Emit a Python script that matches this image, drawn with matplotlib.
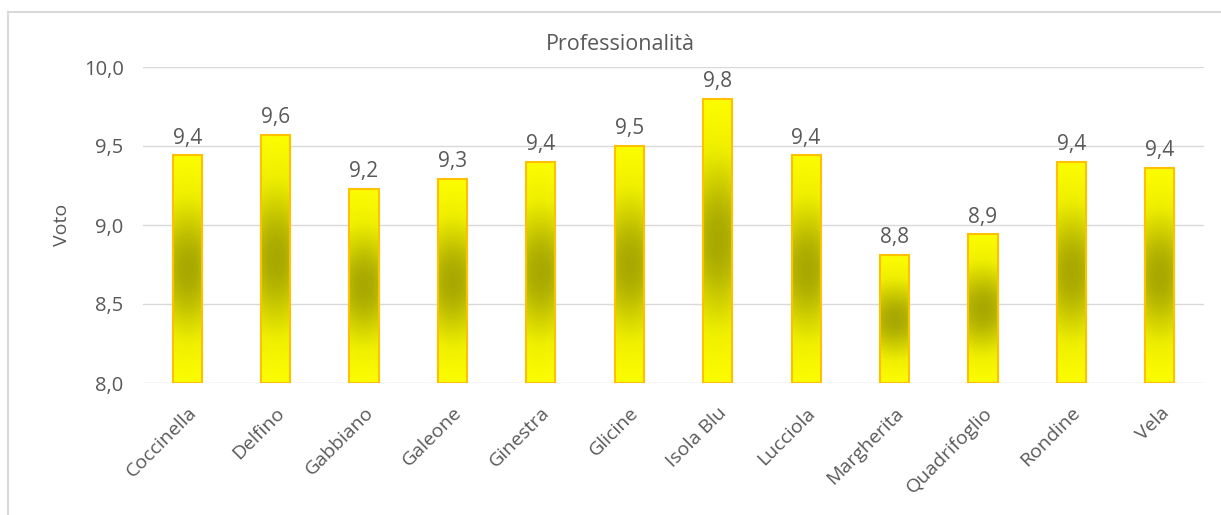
import matplotlib
matplotlib.use('Agg')
import matplotlib.pyplot as plt
import numpy as np
from matplotlib.colors import LinearSegmentedColormap
from matplotlib.lines import Line2D

# Dati
categorie = ['Coccinella', 'Delfino', 'Gabbiano', 'Galeone', 'Ginestra', 'Glicine',
             'Isola Blu', 'Lucciola', 'Margherita', 'Quadrifoglio', 'Rondine', 'Vela']
voti = [9.44, 9.57, 9.23, 9.29, 9.40, 9.50, 9.80, 9.44, 8.81, 8.94, 9.40, 9.36]
y_ticks = [8.0, 8.5, 9.0, 9.5, 10.0]

plt.rcParams['font.family'] = ['Open Sans', 'DejaVu Sans']
grigio = '#595959'

fig = plt.figure(figsize=(12.21, 5.15), dpi=100)
ax = fig.add_axes([143/1221, 1 - 383/515, (1204 - 143)/1221, (383 - 67)/515])

x = np.arange(len(categorie))
bars = ax.bar(x, [v - 8.0 for v in voti], bottom=8.0, width=0.33,
              color='none', edgecolor='#ffc000', linewidth=1.5, zorder=3)

# Sfumatura: giallo in alto e in basso, oliva al centro
cmap = LinearSegmentedColormap.from_list('giallo', ['#ffff00', '#eeee00', '#cccc00', '#a8a800'])
ny, nx = 300, 60
yy, xx = np.mgrid[0:1:ny*1j, 0:1:nx*1j]
d = np.exp(-((yy - 0.5) / 0.31) ** 2) * (1 - 0.15 * (2 * np.abs(xx - 0.5)) ** 2)
for b in bars:
    x0, y0 = b.get_x(), b.get_y()
    w, h = b.get_width(), b.get_height()
    im = ax.imshow(d, cmap=cmap, vmin=0, vmax=1, aspect='auto',
                   extent=[x0, x0 + w, y0, y0 + h], origin='lower',
                   zorder=2, interpolation='bilinear')
    im.set_clip_path(b)

ax.bar_label(bars, labels=[f"{v:.1f}".replace('.', ',') for v in voti],
             padding=5, fontsize=15, color=grigio)

ax.set_xlim(-0.5, len(categorie) - 0.5)
ax.set_ylim(8.0, 10.0)
ax.set_yticks(y_ticks)
ax.set_yticklabels([f"{t:.1f}".replace('.', ',') for t in y_ticks])
ax.set_xticks(x)
ax.set_xticklabels(categorie, rotation=45, ha='right', rotation_mode='anchor')
ax.tick_params(axis='y', length=0, pad=14, labelsize=14.5, labelcolor=grigio)
ax.tick_params(axis='x', length=0, pad=15, labelsize=14, labelcolor=grigio)
ax.grid(axis='y', color='#d9d9d9', linewidth=1, zorder=0)
ax.set_axisbelow(True)
for s in ax.spines.values():
    s.set_visible(False)

ax.set_ylabel('Voto', fontsize=14, color=grigio, labelpad=9)
fig.text(620/1221, 1 - 45/515, 'Professionalità', fontsize=15.5, color=grigio,
         ha='center', va='center')

# Cornice del grafico
fig.add_artist(Line2D([8/1221, 8/1221], [0, 1 - 12/515], color='#d9d9d9', lw=1.5))
fig.add_artist(Line2D([8/1221, 1], [1 - 12/515, 1 - 12/515], color='#d9d9d9', lw=1.5))

fig.savefig('out.png', dpi=100, facecolor='white')
